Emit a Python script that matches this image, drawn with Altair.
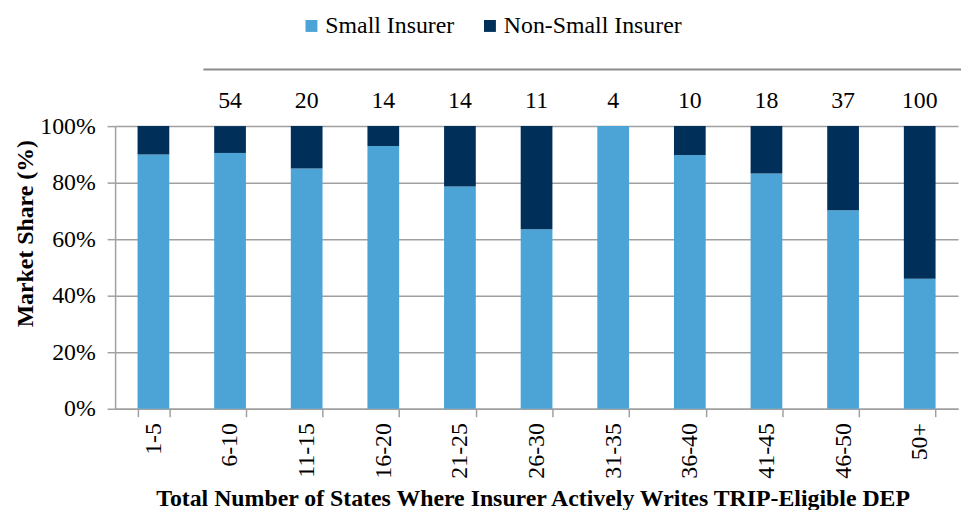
import altair as alt
import pandas as pd

categories = ["1-5", "6-10", "11-15", "16-20", "21-25", "26-30",
              "31-35", "36-40", "41-45", "46-50", "50+"]
small_share = [90, 90.5, 85, 93, 78.6, 63.5, 100, 89.8, 83.2, 70.2, 46]
nonsmall_share = [10, 9.5, 15, 7, 21.4, 36.5, 0, 10.2, 16.8, 29.8, 54]
count_categories = ["6-10", "11-15", "16-20", "21-25", "26-30",
                    "31-35", "36-40", "41-45", "46-50", "50+"]
count_labels = ["54", "20", "14", "14", "11", "4", "10", "18", "37", "100"]
series = ["Small Insurer", "Non-Small Insurer"]
colors = ["#4ba3d6", "#00305a"]
y_ticks = [0, 20, 40, 60, 80, 100]

rows = []
for c, s, n in zip(categories, small_share, nonsmall_share):
    rows.append({"cat": c, "series": series[0], "share": s, "ord": 0})
    rows.append({"cat": c, "series": series[1], "share": n, "ord": 1})
df = pd.DataFrame(rows)
counts = pd.DataFrame({"cat": count_categories, "label": count_labels})

FONT = "Liberation Serif"
FS = 24
W, H = 850, 285
GRID = "#a0a0a0"

xscale = alt.Scale(domain=categories, paddingInner=0.586, paddingOuter=0.293)
x_axis = alt.Axis(
    title="Total Number of States Where Insurer Actively Writes TRIP-Eligible DEP",
    labelAngle=-90, tickBand="extent", labelFont=FONT, labelFontSize=FS,
    labelColor="black", labelPadding=6, tickSize=8, tickColor=GRID,
    tickWidth=1.5, domainColor=GRID, domainWidth=1.5,
    titleFont=FONT, titleFontSize=FS, titleFontWeight="bold",
    titleColor="black", titleX=421, titleY=91, titleBaseline="middle",
    titleAlign="center", titleLimit=0,
)

bars = alt.Chart(df).mark_bar().encode(
    x=alt.X("cat:N", scale=xscale, sort=categories, axis=x_axis),
    y=alt.Y(
        "share:Q", stack="zero", scale=alt.Scale(domain=[0, 100]),
        axis=alt.Axis(
            values=y_ticks, labelExpr="datum.value + '%'", title="Market Share (%)",
            labelFont=FONT, labelFontSize=FS, labelColor="black", labelPadding=12,
            tickSize=8, tickColor=GRID, tickWidth=1.5, domainColor=GRID,
            domainWidth=1.5, gridColor=GRID, gridWidth=1.5,
            titleFont=FONT, titleFontSize=FS, titleFontWeight="bold",
            titleColor="black", titleX=-90, titleY=108, titleAngle=-90,
            titleAlign="center", titleBaseline="middle",
        ),
    ),
    color=alt.Color(
        "series:N", scale=alt.Scale(domain=series, range=colors),
        legend=alt.Legend(
            orient="none", legendX=186, legendY=-113, direction="horizontal",
            title=None, symbolType="square", symbolSize=144, symbolStrokeWidth=0,
            labelFont=FONT, labelFontSize=FS, labelColor="black", labelOffset=2,
            columnPadding=24, labelLimit=0,
        ),
    ),
    order=alt.Order("ord:Q"),
)

texts = alt.Chart(counts).mark_text(
    font=FONT, fontSize=FS, color="black", baseline="middle", align="center"
).encode(
    x=alt.X("cat:N", scale=xscale, sort=categories, axis=x_axis),
    y=alt.value(-25),
    text="label:N",
)

rule = alt.Chart(pd.DataFrame({"k": [0]})).mark_rule(
    color="#8c8c8c", strokeWidth=2
).encode(x=alt.value(89), x2=alt.value(853), y=alt.value(-57))

chart = alt.layer(bars, texts, rule).properties(
    width=W, height=H,
    autosize=alt.AutoSizeParams(type="none"),
    padding={"left": 108, "top": 117, "right": 3, "bottom": 100},
).configure_view(strokeWidth=0)

chart.save("out.html", embed_options={"renderer": "svg", "actions": False})
